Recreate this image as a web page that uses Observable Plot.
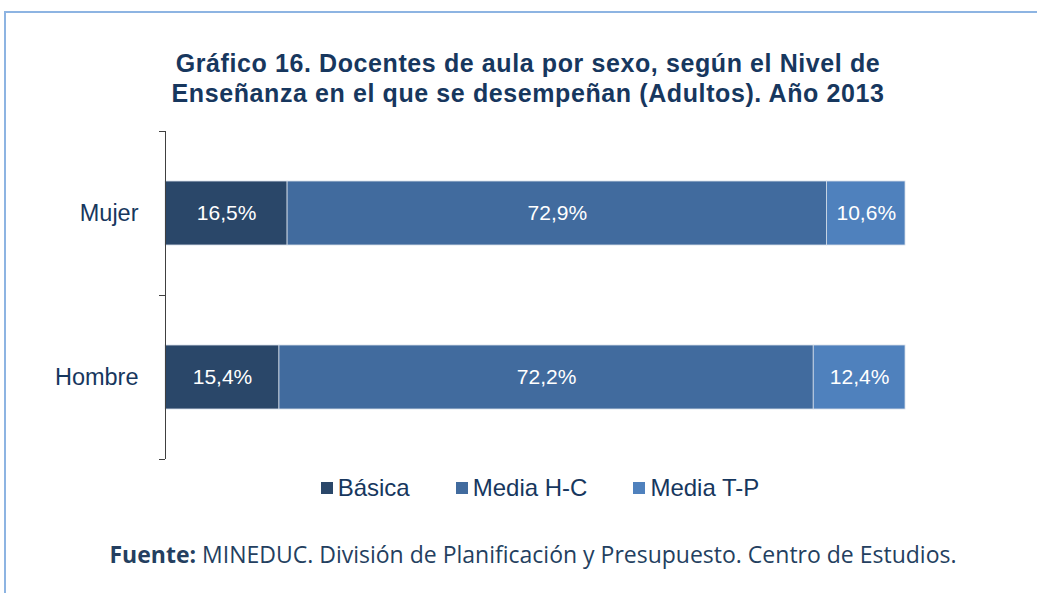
<!DOCTYPE html>
<html>
<head>
<meta charset="utf-8">
<script src="https://cdn.jsdelivr.net/npm/d3@7"></script>
<script src="https://cdn.jsdelivr.net/npm/@observablehq/plot@0.6"></script>
<style>
  html, body { margin: 0; padding: 0; background: #fff; overflow: hidden; width: 1037px; height: 593px; }
  #frame { position: absolute; left: 4px; top: 11px; width: 1100px; height: 700px;
           border-top: 2px solid #8DB4E2; border-left: 2px solid #8DB4E2; }
  #title { position: absolute; top: 48px; left: 0; width: 1056px; text-align: center;
           font: bold 25px "Liberation Sans", Arial, sans-serif; letter-spacing: 0.6px;
           line-height: 30px; color: #17375E; }
  #chart { position: absolute; top: 121px; left: 0; }
  #legend { position: absolute; top: 474px; left: 0; width: 1080px; display: flex; justify-content: center;
            font: 24px "Liberation Sans", Arial, sans-serif; color: #17375E; }
  .item { display: flex; align-items: center; margin: 0 23px; }
  .sw { width: 12px; height: 12px; margin-right: 5px; }
  #caption { position: absolute; top: 538px; left: 0; width: 1066px; text-align: center;
             font: 23px "Open Sans", "Noto Sans", sans-serif; color: #243F60; }
</style>
</head>
<body>
<div id="frame"></div>
<div id="title">Gráfico 16. Docentes de aula por sexo, según el Nivel de<br>Enseñanza en el que se desempeñan (Adultos). Año 2013</div>
<div id="chart"></div>
<div id="legend"></div>
<div id="caption"><b>Fuente:</b> MINEDUC. División de Planificación y Presupuesto. Centro de Estudios.</div>
<script>
const sexos = ["Mujer", "Hombre"];
const niveles = ["Básica", "Media H-C", "Media T-P"];
const basica = [16.5, 15.4];
const mediaHC = [72.9, 72.2];
const mediaTP = [10.6, 12.4];
const colores = ["#2A4769", "#416B9E", "#4F81BD"];

const series = [basica, mediaHC, mediaTP];
const data = [];
sexos.forEach((s, i) => {
  niveles.forEach((n, j) => {
    data.push({sexo: s, idx: i, nivel: n, value: series[j][i]});
  });
});
const fmt = v => v.toFixed(1).replace(".", ",") + "%";
const half = 0.195;

const plot = Plot.plot({
  width: 1037,
  height: 348,
  marginLeft: 165,
  marginRight: 132,
  marginTop: 10,
  marginBottom: 10,
  x: {domain: [0, 100], axis: null},
  y: {domain: [0, 2], reverse: true, axis: null},
  color: {domain: niveles, range: colores},
  style: {fontFamily: "Liberation Sans, Arial, sans-serif", overflow: "visible"},
  marks: [
    Plot.rectX(data, Plot.stackX({
      x: "value", y1: d => d.idx + 0.5 - half, y2: d => d.idx + 0.5 + half,
      z: "nivel", fill: "nivel", order: niveles,
      stroke: "#D3DCE8", strokeWidth: 0.8
    })),
    Plot.text(data, Plot.stackX({
      x: "value", y: d => d.idx + 0.5, z: "nivel", order: niveles,
      text: d => fmt(d.value), fill: "white", fontSize: 21
    })),
    Plot.axisY({ticks: [0, 1, 2], tickFormat: () => "", tickSize: 6, stroke: "#404040", strokeWidth: 1}),
    Plot.ruleX([0], {stroke: "#404040", strokeWidth: 1}),
    Plot.text(sexos, {
      x: 0, y: (d, i) => i + 0.5, text: d => d, textAnchor: "end", dx: -27,
      fill: "#17375E", fontSize: 23.5
    })
  ]
});
document.getElementById("chart").appendChild(plot);

const legend = document.getElementById("legend");
niveles.forEach((n, j) => {
  const it = document.createElement("div");
  it.className = "item";
  it.innerHTML = `<span class="sw" style="background:${colores[j]}"></span><span>${n}</span>`;
  legend.appendChild(it);
});
</script>
</body>
</html>
